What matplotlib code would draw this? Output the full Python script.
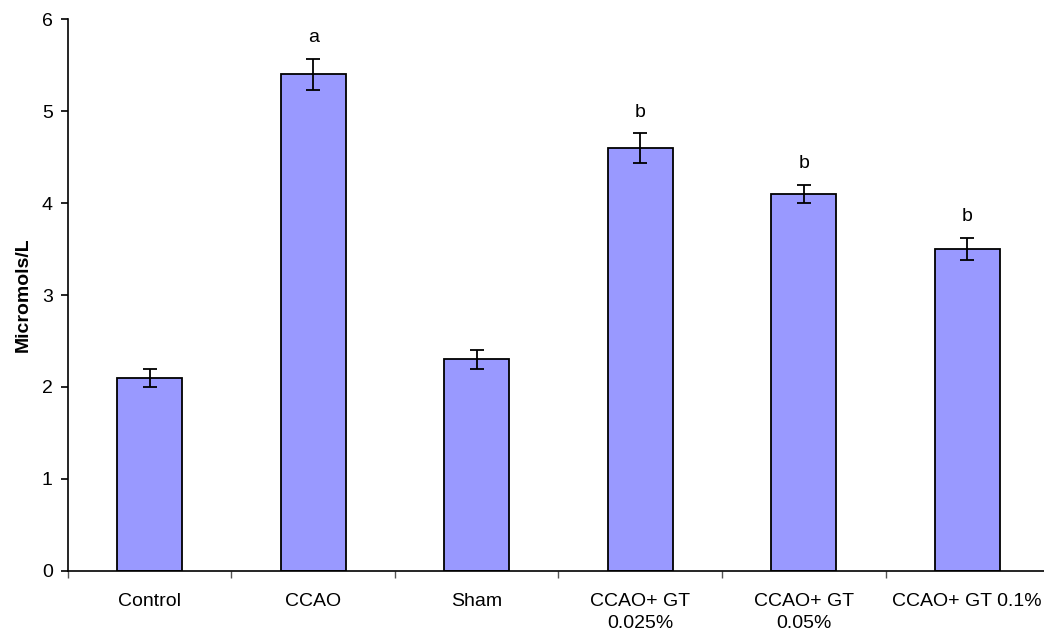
import numpy as np
import matplotlib.pyplot as plt

plt.rcParams['font.family'] = ['Liberation Sans', 'DejaVu Sans']

groups = ["Control", "CCAO", "Sham", "CCAO+ GT\n0.025%", "CCAO+ GT\n0.05%", "CCAO+ GT 0.1%"]
means = [2.1, 5.4, 2.3, 4.6, 4.1, 3.5]
errors = [0.1, 0.17, 0.1, 0.16, 0.1, 0.12]
letters = ["", "a", "", "b", "b", "b"]


def main():
    fig = plt.figure(figsize=(10.44, 6.34), dpi=100)
    ax = fig.add_axes([0.0651, 0.0994, 0.9397, 0.8706])

    x = np.arange(len(groups))
    ax.bar(x, means, width=0.4, color='#9999ff', edgecolor='black', linewidth=1.3, zorder=2)
    ax.errorbar(x, means, yerr=errors, fmt='none', ecolor='black', elinewidth=1.3,
                capsize=5, capthick=1.3, zorder=3)

    for xi, m, e, lab in zip(x, means, errors, letters):
        if lab:
            ax.annotate(lab, (xi, m + e), xytext=(0, 9), textcoords='offset points',
                        ha='center', va='bottom', fontsize=14)

    ax.set_xlim(-0.5, len(groups) - 0.5)
    ax.set_ylim(0, 6)
    ax.set_yticks(range(7))

    # category boundaries carry the tick marks, names sit at the centres
    ax.set_xticks(np.arange(-0.5, len(groups), 1.0))
    ax.set_xticklabels([])
    ax.set_xticks(x, minor=True)
    ax.set_xticklabels(groups, minor=True, linespacing=1.35)
    ax.tick_params(axis='x', which='minor', length=0, pad=16, labelsize=14)
    ax.tick_params(axis='x', which='major', length=5, width=1, color='#555555')
    ax.tick_params(axis='y', length=5, width=1.2, pad=6, labelsize=14)

    ax.spines['top'].set_visible(False)
    ax.spines['right'].set_visible(False)
    ax.spines['left'].set_linewidth(1.2)
    ax.spines['bottom'].set_linewidth(1.2)

    ax.set_ylabel("Micromols/L", fontsize=14, fontweight='bold', labelpad=7)

    fig.savefig("out.png", dpi=100)


if __name__ == '__main__':
    main()
